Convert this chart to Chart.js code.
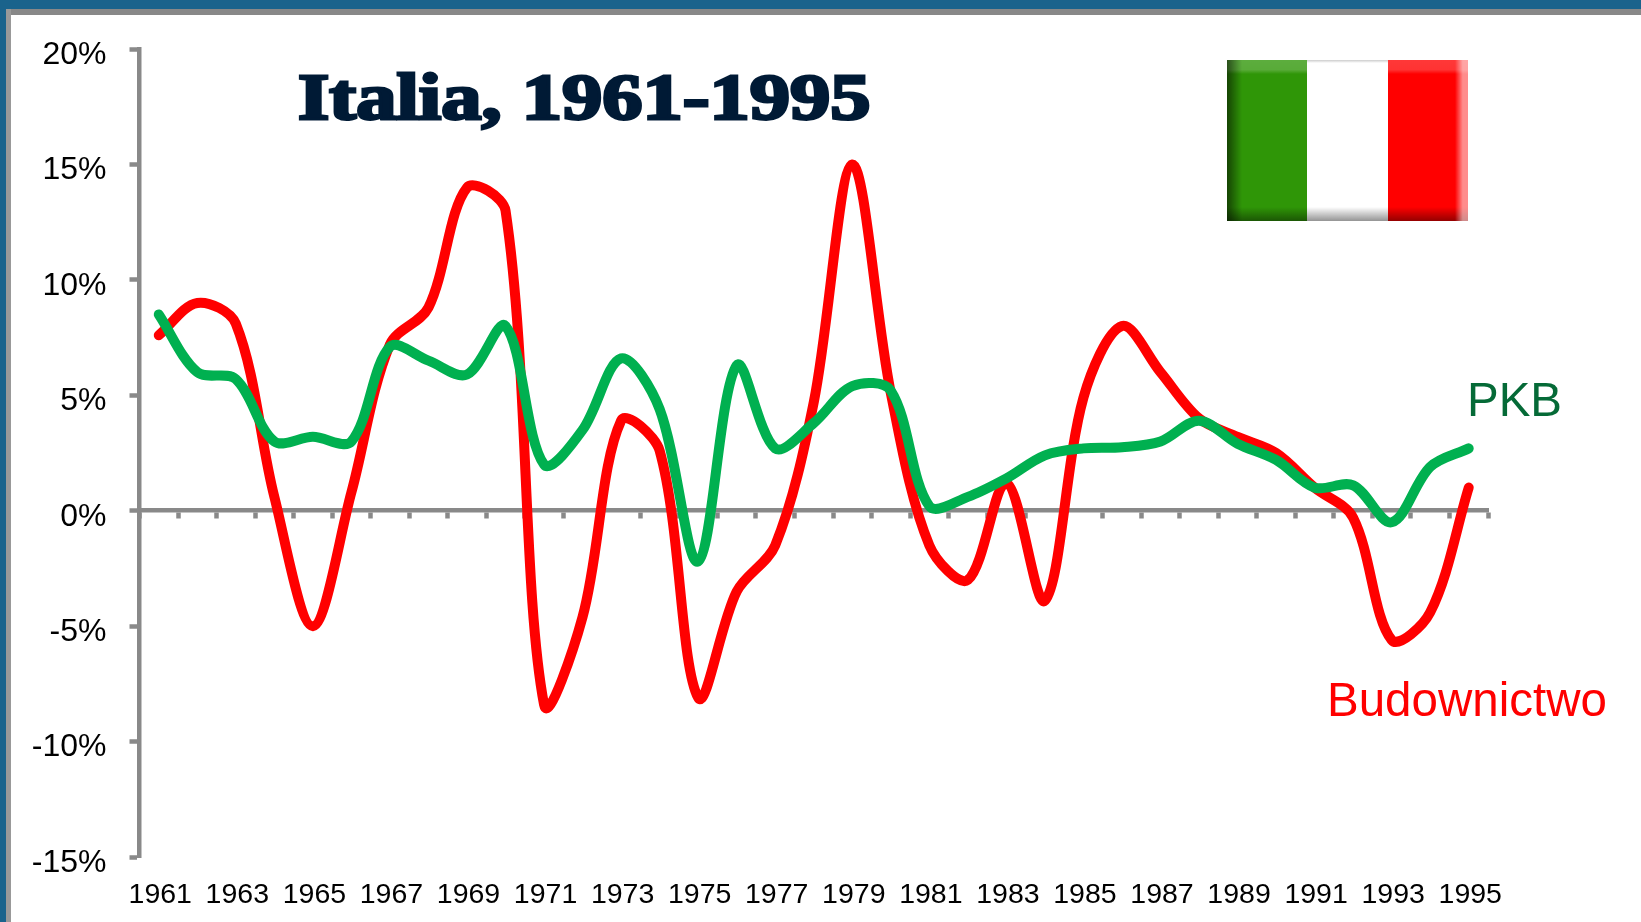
<!DOCTYPE html>
<html lang="pl">
<head>
<meta charset="utf-8">
<title>Italia, 1961-1995</title>
<script src="https://cdn.jsdelivr.net/npm/chart.js@4"></script>
<style>
html,body{margin:0;padding:0;background:#fff;width:1641px;height:922px;overflow:hidden;font-family:"Liberation Sans",Arial,sans-serif}
#wrap{position:absolute;left:0;top:0;width:1641px;height:922px}
canvas{position:absolute;left:0;top:0}
.band{position:absolute}
.lbl{position:absolute;white-space:nowrap;line-height:1;font-size:47.5px}
#title{position:absolute;left:298px;top:64px;font:bold 66px/1 "Liberation Serif",serif;color:#001a35;-webkit-text-stroke:3px #001a35;transform:scaleX(1.22);transform-origin:left top;white-space:nowrap}
#flag{position:absolute;left:1227px;top:60px;width:241px;height:161px;display:flex;overflow:hidden}
#flag div{flex:1;position:relative}
.g{background:#2f9607}.w{background:#fff}.r{background:#ff0000}
.shade{position:absolute;left:0;right:0;bottom:0;height:14px;background:linear-gradient(to bottom,rgba(0,0,0,0),rgba(0,0,0,.42))}
.shine{position:absolute;left:0;right:0;top:0;height:14px;background:linear-gradient(to bottom,rgba(255,255,255,.22),rgba(255,255,255,.2) 70%,rgba(255,255,255,0))}
.topline{position:absolute;left:0;right:0;top:0;height:3px;background:linear-gradient(to bottom,#ccc,#fff)}
.lside{position:absolute;left:0;top:0;bottom:0;width:15px;background:linear-gradient(to right,rgba(0,0,0,.55),rgba(0,0,0,0))}
.rside{position:absolute;right:0;top:0;bottom:0;width:13px;background:linear-gradient(to right,rgba(255,255,255,0),rgba(255,255,255,.55) 60%)}
</style>
</head>
<body>
<div id="wrap">
  <canvas id="c" width="1641" height="922"></canvas>
  <div class="band" style="left:0;top:0;width:1641px;height:9px;background:#1a638c"></div>
  <div class="band" style="left:0;top:9px;width:1641px;height:6px;background:#888"></div>
  <div class="band" style="left:0;top:0;width:6px;height:922px;background:#1a638c"></div>
  <div class="band" style="left:6px;top:9px;width:5px;height:913px;background:#999"></div>
  <div id="title">Italia, 1961-1995</div>
  <div id="flag">
    <div class="g"><span class="shine"></span><span class="shade"></span><span class="lside"></span></div>
    <div class="w"><span class="topline"></span><span class="shade"></span></div>
    <div class="r"><span class="shine"></span><span class="shade"></span><span class="rside"></span></div>
  </div>
  <div class="lbl" id="pkb" style="left:1467px;top:376px;color:#056a37">PKB</div>
  <div class="lbl" id="bud" style="left:1327px;top:676px;color:#ff0000">Budownictwo</div>
</div>
<script>
const years = ['1961','1962','1963','1964','1965','1966','1967','1968','1969','1970','1971','1972','1973','1974','1975','1976','1977','1978','1979','1980','1981','1982','1983','1984','1985','1986','1987','1988','1989','1990','1991','1992','1993','1994','1995'];
const budownictwo = [7.6,9.0,8.1,0.6,-5.0,0.8,7.2,8.8,14.0,13.0,-8.4,-4.6,3.9,2.6,-8.1,-3.5,-1.5,4.7,15.0,5.1,-1.5,-3.0,1.2,-3.9,4.9,8.0,6.0,4.0,3.2,2.5,1.0,-0.3,-5.6,-4.4,1.0];
const pkb = [8.5,6.0,5.7,3.0,3.2,3.0,7.1,6.5,5.9,8.0,2.0,3.5,6.6,4.4,-2.2,6.3,2.7,3.8,5.4,5.2,0.2,0.6,1.4,2.4,2.7,2.75,3.0,3.9,2.9,2.2,1.0,1.1,-0.5,1.9,2.7];
const yMin = -15, yMax = 20, yStep = 5;
const axisGrey = '#898989';

new Chart(document.getElementById('c'), {
  type: 'line',
  data: {
    labels: years,
    datasets: [
      {label:'PKB', data:pkb, borderColor:'#00b050', order:1},
      {label:'Budownictwo', data:budownictwo, borderColor:'#ff0000', order:2}
    ].map(d => Object.assign(d, {borderWidth:10, pointRadius:0, tension:0.33, borderCapStyle:'round', borderJoinStyle:'round', fill:false, clip:false, xAxisID:'x', yAxisID:'y'}))
  },
  options: {
    responsive:false, animation:false,
    layout:{padding:{left:0,top:49,right:153,bottom:0}},
    plugins:{legend:{display:false},title:{display:false},tooltip:{enabled:false}},
    scales:{
      y:{
        min:yMin,max:yMax,
        afterFit(s){s.width=139.5;},
        ticks:{stepSize:yStep,color:'#000',font:{family:'"Liberation Sans"',size:32},padding:23,labelOffset:6,callback:v=>v+'%'},
        grid:{drawOnChartArea:false,drawTicks:true,tickLength:10,tickColor:axisGrey,tickWidth:4.5},
        border:{display:true,color:axisGrey,width:4.5}
      },
      x:{
        position:{y:0},
        offset:true,
        afterFit(s){s.height=0;},
        ticks:{display:false},
        grid:{offset:true,drawOnChartArea:false,drawTicks:true,tickLength:6,tickColor:axisGrey,tickWidth:4.5},
        border:{display:true,color:axisGrey,width:4.5}
      },
      x2:{
        type:'category',position:'bottom',labels:years,offset:true,
        afterFit(s){s.height=922-857;},
        grid:{display:false},border:{display:false},
        ticks:{autoSkip:false,maxRotation:0,minRotation:0,color:'#000',font:{family:'"Liberation Sans"',size:28.5},padding:13,labelOffset:1.5,
          callback(v,i){return i%2===0?years[i]:'';}}
      }
    }
  }
});
</script>
</body>
</html>
